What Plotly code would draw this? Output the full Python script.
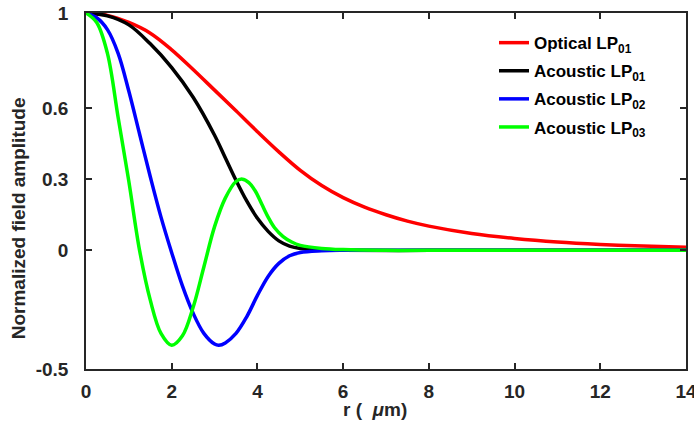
import plotly.graph_objects as go

# r (µm) sample positions and normalized field values
r_red = [0, 0.5, 1, 1.5, 2, 2.5, 3, 3.5, 4, 4.5, 5, 5.5, 6, 6.5, 7, 7.5, 8, 9, 10, 11, 12, 13, 14]
optical_lp01 = [1.0, 0.99, 0.96, 0.915, 0.845, 0.762, 0.675, 0.588, 0.50, 0.415, 0.337, 0.273,
                0.222, 0.182, 0.150, 0.123, 0.102, 0.071, 0.050, 0.035, 0.025, 0.018, 0.013]

r_black = [0, 0.5, 1, 1.5, 2, 2.5, 3, 3.25, 3.5, 3.75, 4, 4.25, 4.5, 4.75, 5, 5.5, 6, 8, 10, 12, 14]
acoustic_lp01 = [1.0, 0.988, 0.95, 0.87, 0.77, 0.645, 0.485, 0.39, 0.295, 0.208, 0.135, 0.08,
                 0.04, 0.018, 0.008, 0.002, 0.0, 0.0, 0.0, 0.0, 0.0]

r_blue = [0, 0.25, 0.5, 0.75, 1, 1.25, 1.5, 1.75, 2, 2.25, 2.5, 2.75, 3, 3.1, 3.25, 3.5, 3.75,
          4, 4.25, 4.5, 4.75, 5, 5.5, 6, 8, 10, 12, 14]
acoustic_lp02 = [1.0, 0.98, 0.93, 0.83, 0.67, 0.49, 0.31, 0.14, -0.01, -0.15, -0.265, -0.35,
                 -0.395, -0.40, -0.39, -0.35, -0.28, -0.19, -0.11, -0.055, -0.023, -0.009,
                 -0.002, 0.0, 0.0, 0.0, 0.0, 0.0]

r_green = [0, 0.25, 0.5, 0.75, 1, 1.25, 1.5, 1.75, 2, 2.25, 2.5, 2.75, 3, 3.25, 3.5, 3.65, 3.8,
           3.95, 4.1, 4.25, 4.4, 4.6, 4.8, 5, 5.5, 6, 7, 8, 10, 12, 14]
acoustic_lp03 = [1.0, 0.96, 0.83, 0.56, 0.29, 0.0, -0.21, -0.35, -0.40, -0.36, -0.24, -0.07,
                 0.10, 0.22, 0.29, 0.30, 0.285, 0.25, 0.195, 0.14, 0.095, 0.058, 0.035, 0.021,
                 0.008, 0.003, 0.0, 0.0, 0.0, 0.0, 0.0]

x_ticks = [0, 2, 4, 6, 8, 10, 12, 14]
y_ticks = [1, 0.6, 0.3, 0, -0.5]
y_tick_text = ["1", "0.6", "0.3", "0", "-0.5"]

series = [
    ("Optical LP<sub>01</sub>", r_red, optical_lp01, "#ff0000"),
    ("Acoustic LP<sub>01</sub>", r_black, acoustic_lp01, "#000000"),
    ("Acoustic LP<sub>02</sub>", r_blue, acoustic_lp02, "#0000ff"),
    ("Acoustic LP<sub>03</sub>", r_green, acoustic_lp03, "#00ff00"),
]

FONT = "Liberation Sans, Arial, sans-serif"
AXC = "#262626"

fig = go.Figure()
for i, (name, xs, ys, col) in enumerate(series):
    fig.add_trace(go.Scatter(x=xs, y=ys, mode="lines", name=name, legendgroup=f"g{i}",
                             line=dict(color=col, width=3.5, shape="spline", smoothing=1.0)))

axis_common = dict(
    showline=True, linecolor=AXC, linewidth=1.5, mirror="ticks",
    ticks="inside", ticklen=6, tickwidth=1.5, tickcolor=AXC,
    showgrid=False, zeroline=False, automargin=False, ticklabeloverflow="allow",
    tickfont=dict(family=FONT, size=19, color=AXC, weight="bold"),
)

fig.update_layout(
    width=694, height=428,
    margin=dict(l=86, r=8, t=13, b=59),
    paper_bgcolor="white", plot_bgcolor="white",
    font=dict(family=FONT, color=AXC),
    xaxis=dict(range=[0, 14], tickvals=x_ticks, ticklabelstandoff=4, **axis_common),
    yaxis=dict(range=[-0.5, 1], tickvals=y_ticks, ticktext=y_tick_text,
               ticklabelstandoff=12, **axis_common),
    showlegend=True,
    legend=dict(x=0.680, y=0.966, xanchor="left", yanchor="top",
                bgcolor="rgba(255,255,255,0)", borderwidth=0, traceorder="grouped",
                font=dict(family=FONT, size=17, color="#000000", weight="bold"),
                itemwidth=30, tracegroupgap=3),
    annotations=[
        dict(text="Normalized field amplitude", xref="paper", yref="paper",
             x=-0.113, y=0.424, xanchor="center", yanchor="middle", textangle=-90,
             showarrow=False, font=dict(family=FONT, size=19, color=AXC, weight="bold")),
        dict(text="r (\u00a0\u00a0<i>μ</i>m)", xref="paper", yref="paper",
             x=0.482, y=-0.115, xanchor="center", yanchor="middle", showarrow=False,
             font=dict(family=FONT, size=19, color=AXC, weight="bold")),
    ],
)

# remove the default page margin so the figure fills the window exactly
fig.write_html("out.html", config={"displayModeBar": False},
               post_script="document.body.style.margin='0';")
